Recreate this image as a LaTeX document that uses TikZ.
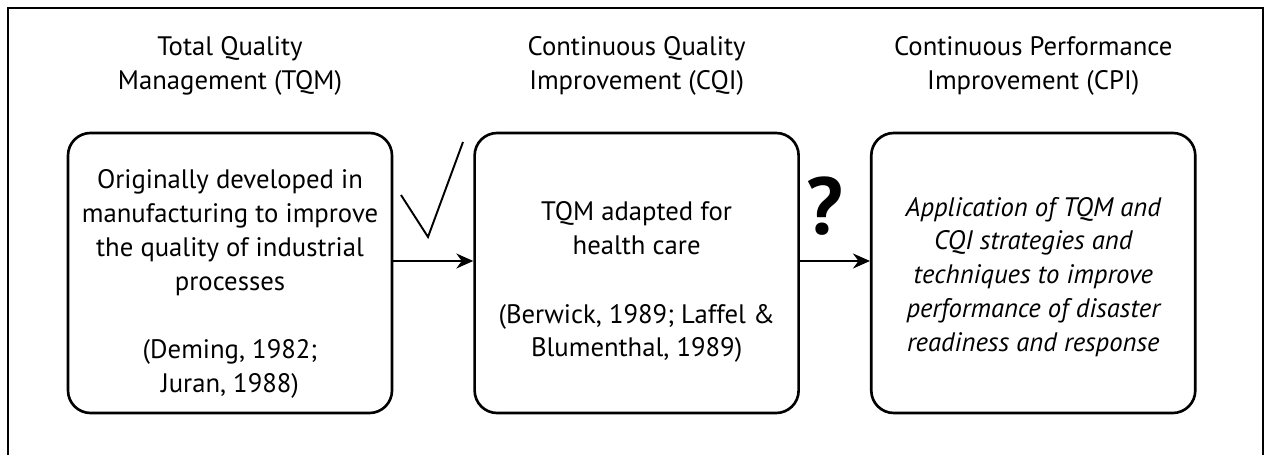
\documentclass[tikz,border=0pt]{standalone}
\usepackage{fontspec}
\setmainfont{PT Sans}
\usetikzlibrary{positioning,arrows.meta,calc}

\begin{document}
\begin{tikzpicture}[
    >=Stealth,
    every node/.style={font=\fontsize{15.2}{19.3}\selectfont},
    stagebox/.style={draw, line width=1.5pt, rounded corners=0.45cm, minimum width=6.48cm, minimum height=5.6cm},
    stagetext/.style={align=center, inner sep=0pt},
    titlebox/.style={align=center, inner sep=0pt},
    flowarrow/.style={-{Stealth[length=0.34cm,width=0.3cm]}, line width=1.1pt},
    markline/.style={line width=1.1pt},
]
\useasboundingbox (0,0) rectangle (25.32,-9.1);

% ---- Outer frame (open at the bottom) ----
\draw[line width=1pt] (0.16,-9.1) -- (0.16,-0.16) -- (25.26,-0.16) -- (25.26,-9.1);

% ---- Stage boxes ----
\node[stagebox] (tqm) at (4.6,-5.46) {};
\node[stagebox, right=1.6cm of tqm] (cqi) {};
\node[stagebox, right=1.4cm of cqi] (cpi) {};

% ---- Stage texts ----
\node[stagetext] (tqmtext) at ([yshift=-0.22cm]tqm.center) {Originally developed in\\manufacturing to improve\\the quality of industrial\\processes\\[0.7cm](Deming, 1982;\\Juran, 1988)};
\node[stagetext] (cqitext) at ([yshift=-0.18cm]cqi.center) {TQM adapted for\\health care\\[0.7cm](Berwick, 1989; Laffel \&\\Blumenthal, 1989)};
\node[stagetext, font=\fontsize{15.2}{19.3}\selectfont\itshape] (cpitext) at ([yshift=-0.08cm]cpi.center) {Application of TQM and\\CQI strategies and\\techniques to improve\\performance of disaster\\readiness and response};

% ---- Titles ----
\node[titlebox, above=0.72cm of tqm] (tqmtitle) {Total Quality\\Management (TQM)};
\node[titlebox, above=0.72cm of cqi] (cqititle) {Continuous Quality\\Improvement (CQI)};
\node[titlebox, above=0.72cm of cpi] (cpititle) {Continuous Performance\\Improvement (CPI)};

% ---- Arrows between stages ----
\draw[flowarrow] ([yshift=0.24cm]tqm.east) -- ([yshift=0.24cm]cqi.west);
\draw[flowarrow] ([yshift=0.24cm]cqi.east) -- ([yshift=0.24cm]cpi.west);

% check mark and question mark above the arrows
\draw[markline] (8.02,-3.9) -- (8.56,-4.74) -- (9.26,-2.84);
\node[font=\fontsize{46}{50}\selectfont\bfseries, inner sep=0pt] (unknown) at (16.5,-4.12) {?};

\end{tikzpicture}
\end{document}
